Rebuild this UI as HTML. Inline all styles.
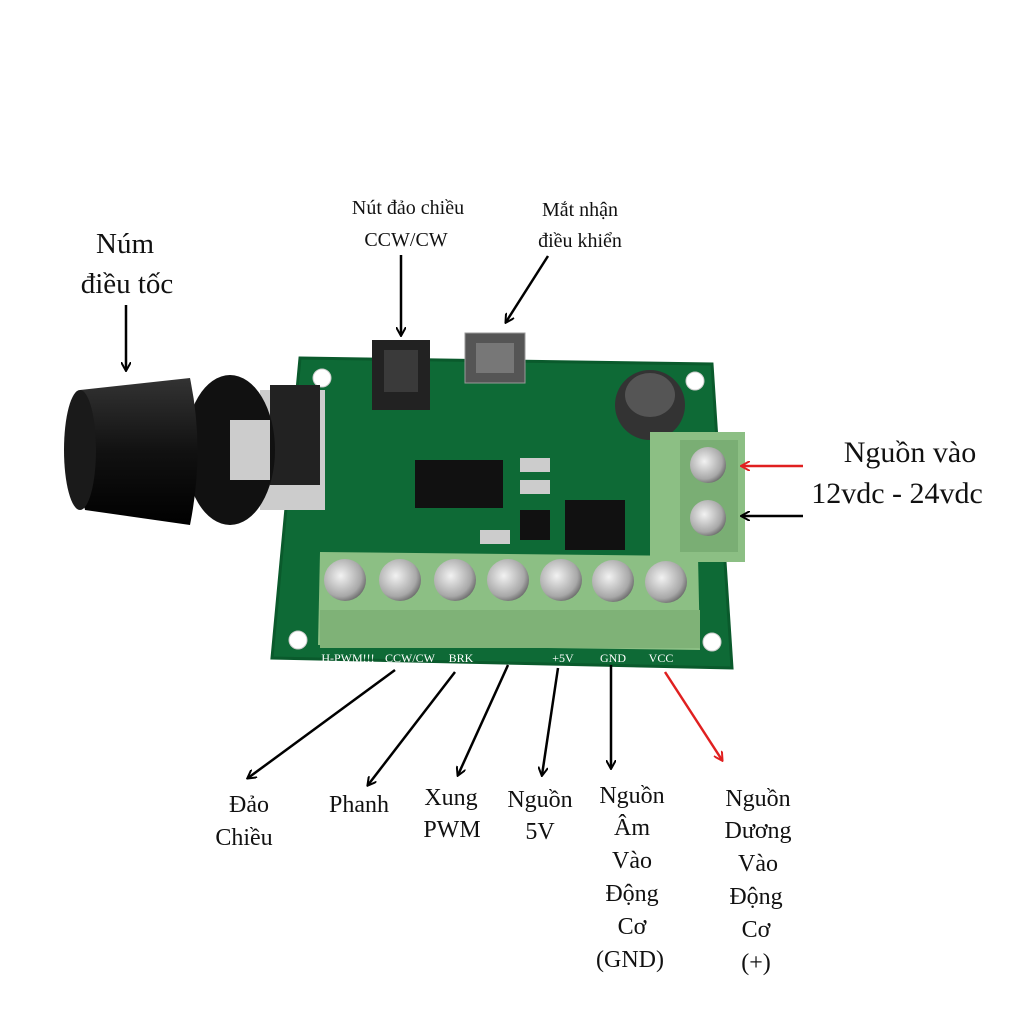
<!DOCTYPE html>
<html><head><meta charset="utf-8"><style>
html,body{margin:0;padding:0;background:#fff;}
svg{display:block}
text{font-family:"Liberation Serif","DejaVu Serif",serif;fill:#111;text-anchor:middle}
</style></head><body>
<svg width="1024" height="1024" viewBox="0 0 1024 1024" xmlns="http://www.w3.org/2000/svg">
<defs>
<marker id="ab" markerWidth="10" markerHeight="10" refX="8" refY="5" orient="auto" markerUnits="userSpaceOnUse"><path d="M0,0 L9,5 L0,10" fill="none" stroke="#000" stroke-width="2"/></marker>
<marker id="ar" markerWidth="10" markerHeight="10" refX="8" refY="5" orient="auto" markerUnits="userSpaceOnUse"><path d="M0,0 L9,5 L0,10" fill="none" stroke="#e02020" stroke-width="2"/></marker>
<radialGradient id="sc" cx="0.4" cy="0.4" r="0.7"><stop offset="0" stop-color="#f2f2f2"/><stop offset="0.7" stop-color="#a8a8a8"/><stop offset="1" stop-color="#555"/></radialGradient>
<linearGradient id="kn" x1="0" y1="0" x2="0" y2="1"><stop offset="0" stop-color="#333"/><stop offset="0.5" stop-color="#111"/><stop offset="1" stop-color="#000"/></linearGradient>
</defs>
<rect width="1024" height="1024" fill="#fff"/>
<!-- PCB -->
<polygon points="300,358 712,364 732,668 272,658" fill="#0e6a36"/>
<polygon points="300,358 712,364 732,668 272,658" fill="none" stroke="#0a5a2c" stroke-width="3"/>
<circle cx="322" cy="378" r="9" fill="#fff" stroke="#ccc"/>
<circle cx="695" cy="381" r="9" fill="#fff" stroke="#ccc"/>
<circle cx="298" cy="640" r="9" fill="#fff" stroke="#ccc"/>
<circle cx="712" cy="642" r="9" fill="#fff" stroke="#ccc"/>
<!-- button -->
<rect x="372" y="340" width="58" height="70" fill="#222"/>
<rect x="384" y="350" width="34" height="42" fill="#3a3a3a"/>
<!-- IR receiver -->
<rect x="465" y="333" width="60" height="50" fill="#555" stroke="#999"/>
<rect x="476" y="343" width="38" height="30" fill="#777"/>
<!-- chip -->
<rect x="415" y="460" width="88" height="48" fill="#111"/>
<rect x="565" y="500" width="60" height="50" fill="#111"/>
<rect x="520" y="510" width="30" height="30" fill="#111"/>
<rect x="520" y="458" width="30" height="14" fill="#ccc"/>
<rect x="520" y="480" width="30" height="14" fill="#ccc"/>
<rect x="480" y="530" width="30" height="14" fill="#ccc"/>
<!-- capacitor -->
<ellipse cx="650" cy="405" rx="35" ry="35" fill="#333"/>
<ellipse cx="650" cy="395" rx="25" ry="22" fill="#555"/>
<!-- potentiometer body -->
<rect x="260" y="390" width="65" height="120" fill="#ccc"/>
<rect x="270" y="385" width="50" height="100" fill="#222"/>
<!-- knob -->
<ellipse cx="230" cy="450" rx="45" ry="75" fill="#111"/>
<rect x="230" y="420" width="40" height="60" fill="#ccc"/>
<path d="M80,390 Q70,450 85,510 L190,525 Q205,450 190,378 Z" fill="url(#kn)"/>
<ellipse cx="80" cy="450" rx="16" ry="60" fill="#1a1a1a"/>
<!-- right terminal -->
<rect x="650" y="432" width="95" height="130" fill="#8cbf84"/>
<rect x="680" y="440" width="58" height="112" fill="#7aae74"/>
<circle cx="708" cy="465" r="18" fill="url(#sc)"/>
<circle cx="708" cy="518" r="18" fill="url(#sc)"/>
<!-- bottom terminal -->
<polygon points="320,552 698,556 700,650 318,645" fill="#8cbf84"/>
<rect x="320" y="610" width="380" height="38" fill="#7fb277"/>
<g>
<circle cx="345" cy="580" r="21" fill="url(#sc)"/>
<circle cx="400" cy="580" r="21" fill="url(#sc)"/>
<circle cx="455" cy="580" r="21" fill="url(#sc)"/>
<circle cx="508" cy="580" r="21" fill="url(#sc)"/>
<circle cx="561" cy="580" r="21" fill="url(#sc)"/>
<circle cx="613" cy="581" r="21" fill="url(#sc)"/>
<circle cx="666" cy="582" r="21" fill="url(#sc)"/>
</g>
<g style="font-family:'Liberation Mono',monospace;font-size:12px" fill="#fff">
<text x="348" y="662" style="fill:#fff">H-PWM!!!</text><text x="410" y="662" style="fill:#fff">CCW/CW</text>
<text x="461" y="662" style="fill:#fff">BRK</text><text x="563" y="662" style="fill:#fff">+5V</text>
<text x="613" y="662" style="fill:#fff">GND</text><text x="661" y="662" style="fill:#fff">VCC</text>
</g>
<!-- labels -->
<text x="125" y="253" font-size="29">Núm</text>
<text x="127" y="293" font-size="29">điều tốc</text>
<text x="408" y="214" font-size="20">Nút đảo chiều</text>
<text x="406" y="246" font-size="20">CCW/CW</text>
<text x="580" y="216" font-size="20">Mắt nhận</text>
<text x="580" y="247" font-size="20">điều khiển</text>
<text x="910" y="462" font-size="30">Nguồn vào</text>
<text x="897" y="503" font-size="30">12vdc - 24vdc</text>
<g font-size="24">
<text x="249" y="812">Đảo</text><text x="244" y="845">Chiều</text>
<text x="359" y="812">Phanh</text>
<text x="451" y="805">Xung</text><text x="452" y="837">PWM</text>
<text x="540" y="807">Nguồn</text><text x="540" y="839">5V</text>
<text x="632" y="803">Nguồn</text><text x="632" y="835">Âm</text><text x="632" y="868">Vào</text><text x="632" y="901">Động</text><text x="632" y="934">Cơ</text><text x="630" y="967">(GND)</text>
<text x="758" y="806">Nguồn</text><text x="758" y="838">Dương</text><text x="758" y="871">Vào</text><text x="756" y="904">Động</text><text x="756" y="937">Cơ</text><text x="756" y="970">(+)</text>
</g>
<!-- arrows -->
<g stroke="#000" stroke-width="2.5" fill="none" marker-end="url(#ab)">
<line x1="126" y1="305" x2="126" y2="370"/>
<line x1="401" y1="255" x2="401" y2="335"/>
<line x1="548" y1="256" x2="506" y2="322"/>
<line x1="803" y1="516" x2="742" y2="516"/>
<line x1="395" y1="670" x2="248" y2="778"/>
<line x1="455" y1="672" x2="368" y2="785"/>
<line x1="508" y1="665" x2="458" y2="775"/>
<line x1="558" y1="668" x2="542" y2="775"/>
<line x1="611" y1="665" x2="611" y2="768"/>
</g>
<g stroke="#e02020" stroke-width="2.5" fill="none" marker-end="url(#ar)">
<line x1="803" y1="466" x2="742" y2="466"/>
<line x1="665" y1="672" x2="722" y2="760"/>
</g>
</svg>
</body></html>
